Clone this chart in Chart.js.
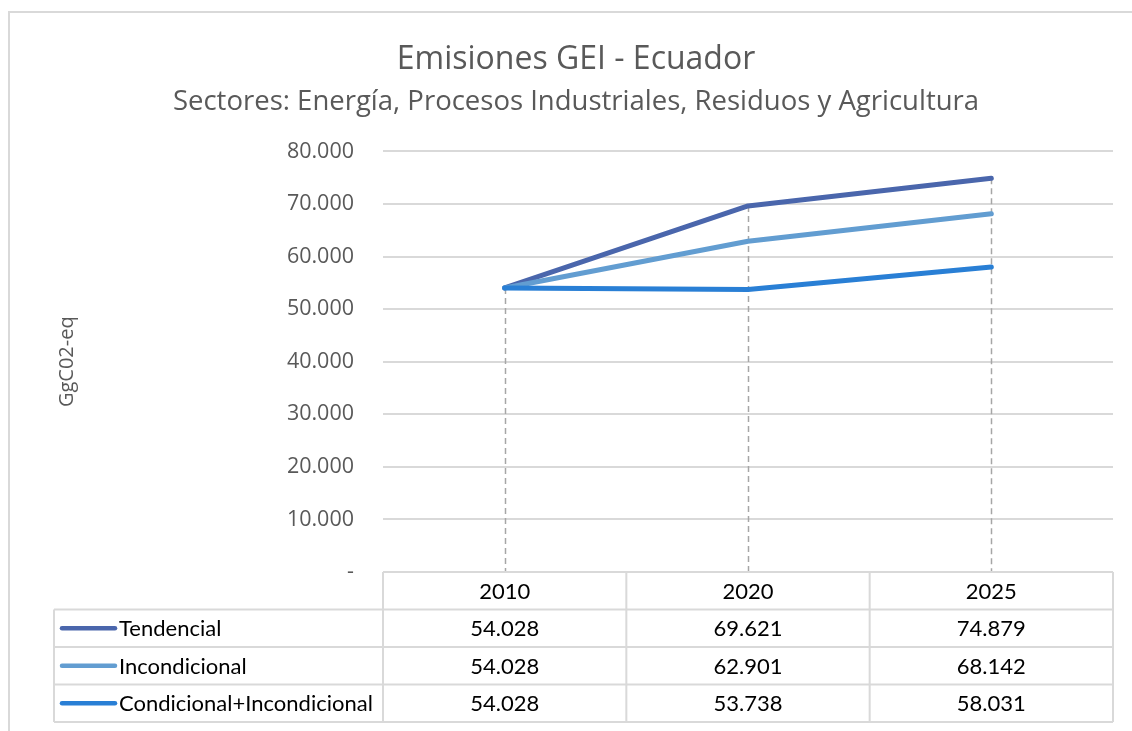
<!DOCTYPE html>
<html>
<head>
<meta charset="utf-8">
<script src="https://cdn.jsdelivr.net/npm/chart.js@4.4.1/dist/chart.umd.min.js"></script>
<style>
html,body{margin:0;padding:0;background:#fff;}
#wrap{position:relative;width:1132px;height:731px;}
</style>
</head>
<body>
<div id="wrap"><canvas id="c" width="1132" height="731"></canvas></div>
<script>
const categories = ['2010', '2020', '2025'];
const seriesNames = ['Tendencial', 'Incondicional', 'Condicional+Incondicional'];
const tendencial = [54028, 69621, 74879];
const incondicional = [54028, 62901, 68142];
const condicional = [54028, 53738, 58031];
const seriesColors = ['#4A66AC', '#629DD1', '#297FD5'];
const yTicks = [0, 10000, 20000, 30000, 40000, 50000, 60000, 70000, 80000];

const seriesValues = [tendencial, incondicional, condicional];

function fmt(v) {
  if (v === 0) return '-';
  return Math.round(v).toString().replace(/\B(?=(\d{3})+(?!\d))/g, '.');
}

const GRID = '#D9D9D9';
const TITLE_FONT = '"Open Sans", sans-serif';
const TABLE_FONT = 'Lato, "Open Sans", sans-serif';
const ROW_H = 37.5;

const frameAndTable = {
  id: 'frameAndTable',
  beforeDatasetsDraw(chart) {
    const ctx = chart.ctx;
    const area = chart.chartArea;
    const x = chart.scales.x;
    ctx.save();
    ctx.strokeStyle = '#A6A6A6';
    ctx.lineWidth = 1.5;
    ctx.setLineDash([6, 4]);
    categories.forEach((c, i) => {
      const px = Math.round(x.getPixelForValue(i)) + 0.5;
      const maxV = Math.max(...seriesValues.map(s => s[i]));
      const py = chart.scales.y.getPixelForValue(maxV);
      ctx.beginPath();
      ctx.moveTo(px, py);
      ctx.lineTo(px, area.bottom);
      ctx.stroke();
    });
    ctx.restore();
  },
  afterDraw(chart) {
    const ctx = chart.ctx;
    const area = chart.chartArea;
    const x = chart.scales.x;
    const n = categories.length;
    const band = area.width / n;
    const top = area.bottom;
    const legendLeft = 54;
    ctx.save();
    ctx.strokeStyle = GRID;
    ctx.lineWidth = 2;
    ctx.beginPath();
    ctx.moveTo(1132, 12);
    ctx.lineTo(9, 12);
    ctx.lineTo(9, 731);
    ctx.stroke();

    const bottom = top + ROW_H * (seriesNames.length + 1);
    ctx.beginPath();
    ctx.moveTo(area.left, top); ctx.lineTo(area.right, top);
    for (let r = 1; r <= seriesNames.length + 1; r++) {
      const yy = top + ROW_H * r;
      ctx.moveTo(legendLeft, yy); ctx.lineTo(area.right, yy);
    }
    ctx.moveTo(legendLeft, top + ROW_H); ctx.lineTo(legendLeft, bottom);
    for (let c = 0; c <= n; c++) {
      const xx = area.left + band * c;
      ctx.moveTo(xx, top); ctx.lineTo(xx, bottom);
    }
    ctx.stroke();

    ctx.fillStyle = '#000000';
    ctx.font = '22px ' + TABLE_FONT;
    ctx.textAlign = 'center';
    ctx.textBaseline = 'middle';
    categories.forEach((c, i) => {
      ctx.fillText(c, x.getPixelForValue(i), top + ROW_H / 2 + 1);
    });
    seriesNames.forEach((name, r) => {
      const cy = top + ROW_H * (r + 1.5);
      ctx.strokeStyle = seriesColors[r];
      ctx.lineWidth = 4.5;
      ctx.lineCap = 'round';
      ctx.beginPath();
      ctx.moveTo(62, cy);
      ctx.lineTo(115, cy);
      ctx.stroke();
      ctx.textAlign = 'left';
      ctx.fillText(name, 119, cy + 1);
      ctx.textAlign = 'center';
      seriesValues[r].forEach((v, i) => {
        ctx.fillText(fmt(v), x.getPixelForValue(i), cy + 1);
      });
    });
    ctx.restore();
  }
};

new Chart(document.getElementById('c'), {
  type: 'line',
  data: {
    labels: categories,
    datasets: seriesNames.map((name, i) => ({
      label: name,
      data: seriesValues[i],
      borderColor: seriesColors[i],
      backgroundColor: seriesColors[i],
      borderWidth: 5,
      pointRadius: 0,
      tension: 0,
      borderCapStyle: 'round',
      borderJoinStyle: 'round'
    })).reverse()
  },
  options: {
    responsive: false,
    animation: false,
    devicePixelRatio: 1,
    layout: { padding: { left: 39, right: 19, top: 0, bottom: 159 } },
    plugins: {
      legend: { display: false },
      tooltip: { enabled: false },
      title: {
        display: true,
        text: 'Emisiones GEI - Ecuador',
        color: '#595959',
        font: { family: TITLE_FONT, size: 32, weight: 'normal', lineHeight: 1.2 },
        padding: { top: 41, bottom: 6 }
      },
      subtitle: {
        display: true,
        text: 'Sectores: Energía, Procesos Industriales, Residuos y Agricultura',
        color: '#595959',
        font: { family: TITLE_FONT, size: 27.5, weight: 'normal', lineHeight: 1.2 },
        padding: { top: 0, bottom: 33 }
      }
    },
    scales: {
      x: {
        type: 'category',
        offset: true,
        ticks: { display: false },
        grid: { display: false, drawTicks: false },
        border: { display: false },
        afterFit(s) { s.height = 0; }
      },
      y: {
        min: 0,
        max: 80000,
        afterBuildTicks(s) { s.ticks = yTicks.map(v => ({ value: v })); },
        ticks: {
          color: '#595959',
          font: { family: TITLE_FONT, size: 21.5 },
          padding: 29,
          callback: (v) => fmt(v)
        },
        grid: { color: GRID, lineWidth: 2, drawTicks: false },
        border: { display: false },
        title: {
          display: true,
          text: 'GgC02-eq',
          color: '#595959',
          font: { family: TITLE_FONT, size: 20 },
          padding: { top: 16, bottom: 0 }
        },
        afterFit(s) { s.width = 344; }
      }
    }
  },
  plugins: [frameAndTable]
});
</script>
</body>
</html>
